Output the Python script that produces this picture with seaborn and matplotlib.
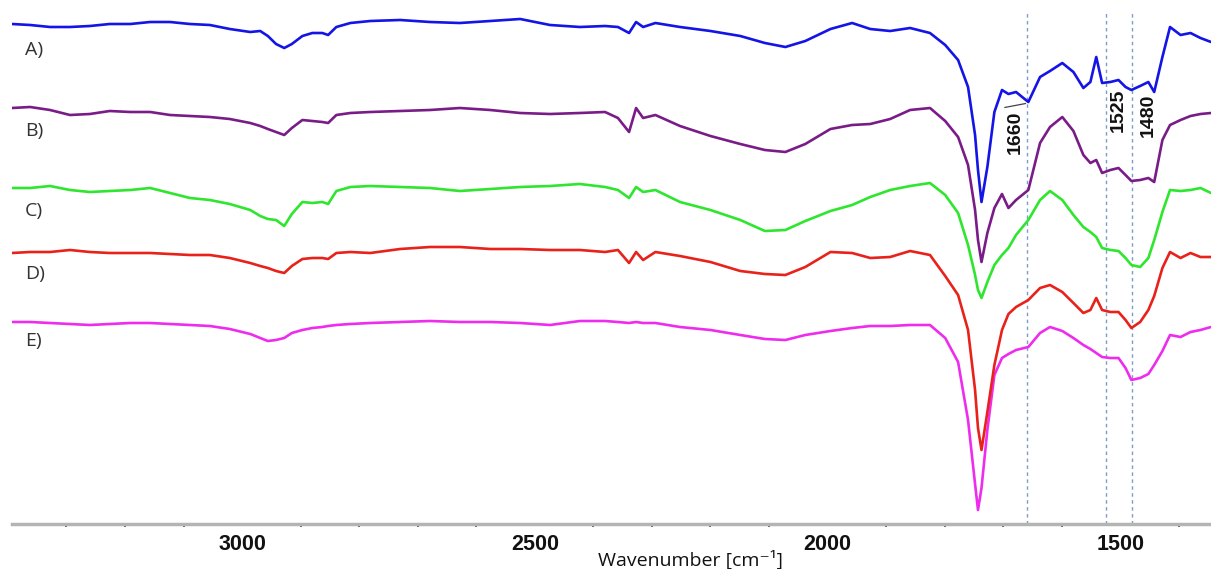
import pandas as pd
import matplotlib
matplotlib.use('Agg')
import matplotlib.pyplot as plt
from matplotlib.ticker import MultipleLocator
import seaborn as sns

# FTIR spectra (offset transmittance, arbitrary units)
wavenumber = [3393, 3362, 3328, 3294, 3260, 3226, 3191, 3157, 3123, 3089,
              3055, 3021, 2986, 2969, 2956, 2942, 2928, 2915, 2897, 2880,
              2863, 2853, 2839, 2815, 2781, 2730, 2679, 2628, 2576, 2525,
              2474, 2423, 2380, 2358, 2339, 2327, 2315, 2294, 2252, 2200,
              2149, 2107, 2072, 2038, 1995, 1958, 1927, 1893, 1859, 1825,
              1799, 1777, 1760, 1748, 1743, 1737, 1727, 1715, 1702, 1691, 1678,
              1657, 1637, 1620, 1599, 1580, 1563, 1551, 1541, 1531, 1517,
              1503, 1491, 1481, 1466, 1452, 1442, 1428, 1415, 1397, 1380,
              1363, 1345]

spec_a = [500, 499, 497, 497, 498, 500, 500, 502, 502, 500,
          499, 495, 492, 493, 488, 480, 476, 480, 488, 491,
          491, 489, 497, 501, 503, 504, 502, 501, 503, 505,
          499, 497, 498, 497, 491, 502, 497, 501, 497, 493,
          488, 481, 477, 483, 495, 501, 495, 493, 496, 491,
          479, 464, 437, 389, 354, 322, 357, 412, 434, 430, 432,
          422, 447, 453, 461, 452, 436, 442, 467, 441, 442,
          444, 437, 434, 438, 442, 432, 467, 497, 489, 491,
          486, 482]

spec_b = [416, 417, 414, 409, 410, 413, 412, 412, 409, 408,
          407, 405, 401, 398, 395, 392, 389, 396, 404, 403,
          402, 401, 409, 411, 412, 413, 414, 416, 414, 411,
          410, 411, 412, 406, 392, 416, 406, 409, 398, 388,
          380, 374, 372, 380, 395, 399, 400, 405, 414, 416,
          403, 387, 359, 314, 284, 262, 291, 316, 330, 316, 324,
          334, 381, 397, 407, 393, 369, 361, 364, 351, 354,
          356, 349, 343, 344, 346, 342, 384, 399, 404, 408,
          410, 411]

spec_c = [336, 336, 338, 334, 332, 333, 334, 336, 331, 326,
          324, 320, 314, 308, 305, 304, 298, 310, 322, 321,
          322, 320, 333, 337, 338, 337, 336, 333, 335, 337,
          338, 340, 337, 334, 326, 337, 332, 334, 322, 314,
          304, 293, 294, 303, 313, 319, 327, 334, 338, 341,
          329, 311, 279, 249, 234, 226, 242, 259, 269, 276, 289,
          304, 324, 333, 324, 309, 297, 292, 287, 276, 274,
          273, 266, 259, 257, 266, 284, 312, 334, 333, 334,
          336, 331]

spec_d = [271, 272, 272, 274, 272, 271, 271, 271, 270, 269,
          269, 266, 261, 258, 256, 253, 251, 258, 265, 266,
          266, 265, 271, 272, 271, 275, 277, 277, 275, 275,
          274, 274, 272, 274, 261, 272, 264, 272, 268, 262,
          253, 250, 249, 257, 272, 271, 266, 267, 273, 269,
          248, 229, 194, 134, 96, 74, 112, 159, 194, 210, 217,
          224, 236, 239, 232, 221, 211, 214, 226, 214, 212,
          212, 204, 196, 202, 214, 228, 256, 272, 266, 271,
          267, 267]

spec_e = [202, 202, 201, 200, 199, 200, 201, 201, 200, 199,
          198, 195, 190, 186, 183, 184, 186, 191, 194, 196,
          197, 198, 199, 200, 201, 202, 203, 202, 202, 201,
          199, 203, 203, 202, 201, 202, 201, 201, 197, 194,
          189, 185, 184, 189, 193, 196, 198, 198, 199, 199,
          186, 162, 104, 40, 14, 36, 94, 149, 166, 170, 174,
          177, 191, 197, 193, 186, 179, 175, 171, 167, 166,
          166, 156, 144, 146, 150, 159, 173, 189, 187, 192,
          194, 197]

samples = ['A)', 'B)', 'C)', 'D)', 'E)']
colors = ['#1414e6', '#7a1c88', '#2ee62e', '#e8221a', '#ee2cee']
label_height = [474, 393, 313, 250, 183]

bands = [1660, 1525, 1480]
band_text_pos = [(1679, 392), (1503, 414), (1452, 409)]

# long form table for seaborn
frames = []
for name, vals in zip(samples, [spec_a, spec_b, spec_c, spec_d, spec_e]):
    frames.append(pd.DataFrame({'wavenumber': wavenumber, 'signal': vals, 'sample': name}))
df = pd.concat(frames, ignore_index=True)

sns.set_style('white')
plt.rcParams['font.family'] = ['Open Sans', 'DejaVu Sans']

fig = plt.figure(figsize=(12.11, 5.69), dpi=100)
ax = fig.add_axes([12 / 1211, 45 / 569, 1199 / 1211, 524 / 569])

# draw E first so the upper traces sit on top
sns.lineplot(data=df, x='wavenumber', y='signal', hue='sample',
             hue_order=samples[::-1], palette=dict(zip(samples, colors)),
             estimator=None, linewidth=1.9, legend=False, ax=ax)

# dashed markers for the bands
for b in bands:
    ax.axvline(b, ymin=0, ymax=0.975, color='#7a9cc8', lw=1.0,
               ls=(0, (2.5, 2.5)), zorder=0)

for b, (tx, ty) in zip(bands, band_text_pos):
    ax.text(tx, ty, str(b), rotation=90, ha='center', va='center',
            fontsize=14, fontweight='bold', family='Liberation Sans', color='#111111')

# small leader from the 1660 label to the trace
ax.annotate('', xy=(1657, 421), xytext=(1702, 416),
            arrowprops=dict(arrowstyle='-', color='#444444', lw=0.9))

for name, h in zip(samples, label_height):
    ax.text(3371, h, name, ha='left', va='center', fontsize=14, color='#333333')

ax.set_xlim(3393, 1345)
ax.set_ylim(0, 524)

ax.set_xticks([3000, 2500, 2000, 1500])
ax.xaxis.set_minor_locator(MultipleLocator(100))
ax.tick_params(axis='x', which='major', direction='out', length=3, width=1.5,
               color='#444444', pad=4, labelsize=15.5)
ax.tick_params(axis='x', which='minor', direction='out', length=2, width=1.2,
               color='#444444', bottom=True)
for lab in ax.get_xticklabels():
    lab.set_family('Liberation Sans')
    lab.set_fontweight('bold')
    lab.set_color('#111111')

ax.set_yticks([])
ax.set_ylabel('')
ax.set_xlabel('Wavenumber [cm⁻¹]', fontsize=14, color='#111111')
ax.xaxis.set_label_coords((690 - 12) / 1199, -27 / 524)

for side in ['top', 'left', 'right']:
    ax.spines[side].set_visible(False)
ax.spines['bottom'].set_color('#b4b4b4')
ax.spines['bottom'].set_linewidth(2.5)

fig.savefig('out.png', dpi=100)
